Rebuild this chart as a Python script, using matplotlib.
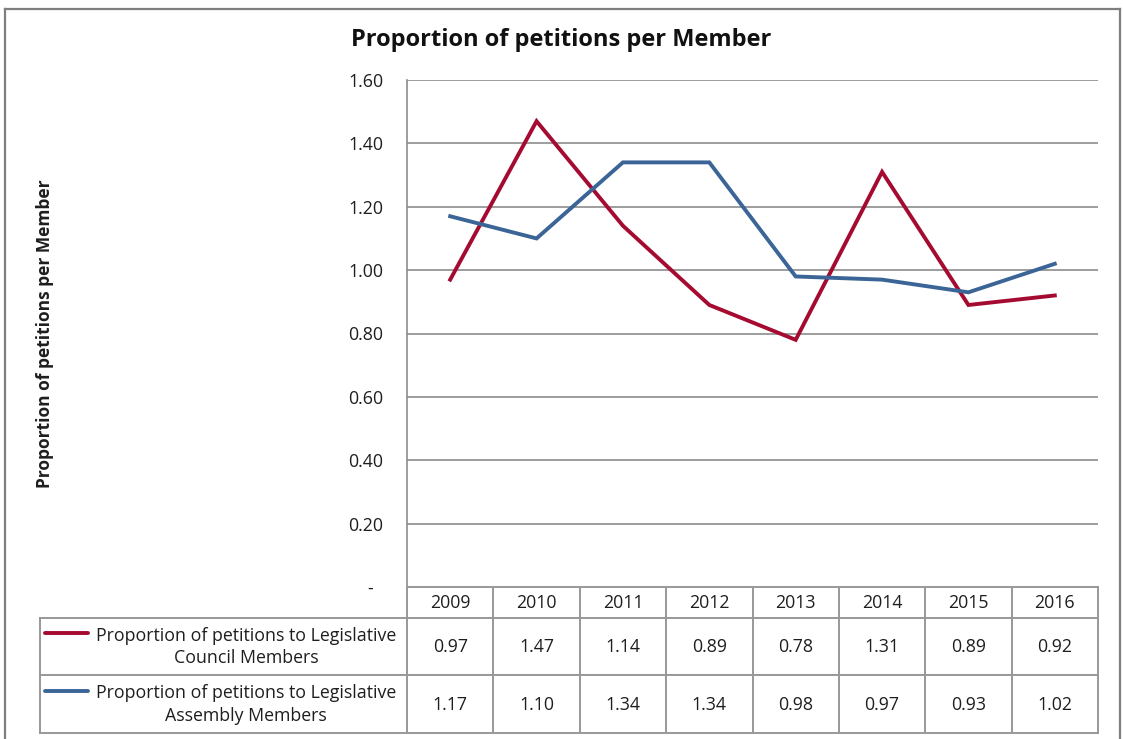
import matplotlib.pyplot as plt
from matplotlib.lines import Line2D

plt.rcParams['font.family'] = ['Open Sans', 'DejaVu Sans']

# data
years = ["2009", "2010", "2011", "2012", "2013", "2014", "2015", "2016"]
council = [0.97, 1.47, 1.14, 0.89, 0.78, 1.31, 0.89, 0.92]
assembly = [1.17, 1.10, 1.34, 1.34, 0.98, 0.97, 0.93, 1.02]
series_names = ["Proportion of petitions to Legislative\nCouncil Members",
                "Proportion of petitions to Legislative\nAssembly Members"]
yticks = [0, 0.2, 0.4, 0.6, 0.8, 1.0, 1.2, 1.4, 1.6]

red = "#A50B31"
blue = "#3B6596"
grid_col = "#8C8C8C"
tab_col = "#989898"
txt = "#1E1E1E"
fs = 12.8

W, H = 1123, 739
fig = plt.figure(figsize=(W / 100, H / 100), dpi=100)

def fx(px):
    return px / W

def fy(py):
    return 1 - py / H

# main plot
ax = fig.add_axes([fx(407), fy(587), fx(1098 - 407), (587 - 80) / H])
x = list(range(len(years)))
ax.plot(x, council, color=red, lw=2.8, solid_joinstyle="miter")
ax.plot(x, assembly, color=blue, lw=2.8, solid_joinstyle="miter")
ax.set_xlim(-0.5, len(years) - 0.5)
ax.set_ylim(0, 1.6)
ax.set_yticks(yticks)
ax.set_yticklabels(["-" if v == 0 else f"{v:.2f}" for v in yticks], fontsize=fs)
ax.set_xticks([])
ax.tick_params(axis="y", length=0, pad=17)
for v in yticks[1:]:
    ax.axhline(v, color=grid_col, lw=1.2, zorder=0)
for s in ["top", "right", "bottom"]:
    ax.spines[s].set_visible(False)
ax.spines["left"].set_color(grid_col)
ax.spines["left"].set_linewidth(1.2)
for lab in ax.get_yticklabels():
    lab.set_color(txt)
# the zero label sits a little further left and lower
zero_lab = ax.get_yticklabels()[0]
zero_lab.set_x(-0.015)

ax.set_ylabel("Proportion of petitions per Member", fontsize=12.5, fontweight="bold",
              color=txt)
ax.yaxis.set_label_coords((54 - 407) / (1098 - 407), 0.5)

fig.text(0.5, fy(40), "Proportion of petitions per Member", ha="center", va="center",
         fontsize=17, fontweight="bold", color="#111111")

# data table under the plot
col_w = (1098 - 407) / len(years)
left_x = -0.5 - (407 - 40) / col_w
tab = fig.add_axes([fx(40), fy(733), fx(1098 - 40), (733 - 587) / H])
tab.set_xlim(left_x, len(years) - 0.5)
tab.set_ylim(146, 0)
tab.axis("off")
lw_t = 1.4
row_edges = [0, 31, 88, 146]
# horizontal rules
tab.plot([-0.5, len(years) - 0.5], [0, 0], color=tab_col, lw=lw_t, clip_on=False)
for yy in row_edges[1:]:
    tab.plot([left_x, len(years) - 0.5], [yy, yy], color=tab_col, lw=lw_t, clip_on=False)
# vertical rules
for i in range(len(years) + 1):
    tab.plot([i - 0.5, i - 0.5], [0, 146], color=tab_col, lw=lw_t, clip_on=False)
tab.plot([left_x, left_x], [31, 146], color=tab_col, lw=lw_t, clip_on=False)

for i, yr in enumerate(years):
    tab.text(i, 16, yr, ha="center", va="center", fontsize=fs, color=txt)
    tab.text(i, 60, f"{council[i]:.2f}", ha="center", va="center", fontsize=fs,
             color=txt)
    tab.text(i, 118, f"{assembly[i]:.2f}", ha="center", va="center", fontsize=fs,
             color=txt)

key_x0 = left_x + 5 / col_w
key_x1 = left_x + 48 / col_w
for (yy, col, name) in [(60, red, series_names[0]), (117.5, blue, series_names[1])]:
    tab.plot([key_x0, key_x1], [yy - 14, yy - 14], color=col, lw=2.8,
             solid_capstyle="round")
    tab.text(left_x + 206 / col_w, yy, name, ha="center", va="center", fontsize=fs,
             color=txt, linespacing=1.3)

# outer chart border
for xs, ys in [([5, 1120], [9, 9]), ([5, 5], [9, 739]), ([1120, 1120], [9, 739])]:
    fig.add_artist(Line2D([fx(v) for v in xs], [fy(v) for v in ys],
                          color="#7F7F7F", lw=1.6))

fig.savefig("out.png", dpi=100)
